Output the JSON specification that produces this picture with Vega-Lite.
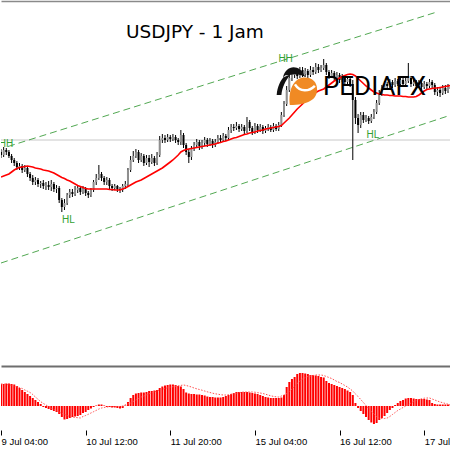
{
"$schema":"https://vega.github.io/schema/vega-lite/v6.json",
"padding":0,
"background":"white",
"config":{"view":{"stroke":null},"concat":{"spacing":1},"axis":{"grid":false},"scale":{"continuousPadding":0}},
"datasets":{"bars":[
{"i":0,"o":108.48,"h":108.51,"l":108.42,"c":108.45,"ma":108.23,"m":0.022,"s":0.022},
{"i":1,"o":108.45,"h":108.53,"l":108.43,"c":108.50,"ma":108.24,"m":0.022,"s":0.022},
{"i":2,"o":108.50,"h":108.52,"l":108.45,"c":108.48,"ma":108.25,"m":0.0225,"s":0.0215},
{"i":3,"o":108.48,"h":108.50,"l":108.42,"c":108.44,"ma":108.26,"m":0.0225,"s":0.0212},
{"i":4,"o":108.44,"h":108.46,"l":108.37,"c":108.40,"ma":108.28,"m":0.022,"s":0.0208},
{"i":5,"o":108.40,"h":108.42,"l":108.34,"c":108.37,"ma":108.30,"m":0.0215,"s":0.020},
{"i":6,"o":108.37,"h":108.39,"l":108.30,"c":108.33,"ma":108.315,"m":0.020,"s":0.0192},
{"i":7,"o":108.33,"h":108.37,"l":108.30,"c":108.34,"ma":108.325,"m":0.018,"s":0.0184},
{"i":8,"o":108.34,"h":108.36,"l":108.27,"c":108.30,"ma":108.33,"m":0.016,"s":0.0175},
{"i":9,"o":108.30,"h":108.35,"l":108.28,"c":108.32,"ma":108.335,"m":0.014,"s":0.016},
{"i":10,"o":108.32,"h":108.34,"l":108.23,"c":108.26,"ma":108.34,"m":0.012,"s":0.0148},
{"i":11,"o":108.26,"h":108.28,"l":108.19,"c":108.22,"ma":108.335,"m":0.010,"s":0.0135},
{"i":12,"o":108.22,"h":108.25,"l":108.15,"c":108.18,"ma":108.33,"m":0.008,"s":0.0115},
{"i":13,"o":108.18,"h":108.23,"l":108.15,"c":108.20,"ma":108.32,"m":0.006,"s":0.009},
{"i":14,"o":108.20,"h":108.22,"l":108.13,"c":108.16,"ma":108.315,"m":0.004,"s":0.0067},
{"i":15,"o":108.16,"h":108.19,"l":108.12,"c":108.17,"ma":108.31,"m":0.002,"s":0.0043},
{"i":16,"o":108.17,"h":108.20,"l":108.11,"c":108.14,"ma":108.30,"m":-0.001,"s":0.0026},
{"i":17,"o":108.14,"h":108.18,"l":108.10,"c":108.15,"ma":108.295,"m":-0.002,"s":0.001},
{"i":18,"o":108.15,"h":108.19,"l":108.10,"c":108.13,"ma":108.29,"m":-0.003,"s":-0.0005},
{"i":19,"o":108.13,"h":108.20,"l":108.09,"c":108.16,"ma":108.28,"m":-0.004,"s":-0.0022},
{"i":20,"o":108.16,"h":108.18,"l":108.08,"c":108.11,"ma":108.27,"m":-0.005,"s":-0.0035},
{"i":21,"o":108.11,"h":108.15,"l":108.07,"c":108.12,"ma":108.255,"m":-0.006,"s":-0.0048},
{"i":22,"o":108.12,"h":108.14,"l":107.97,"c":108.00,"ma":108.24,"m":-0.008,"s":-0.006},
{"i":23,"o":108.00,"h":108.02,"l":107.88,"c":107.93,"ma":108.225,"m":-0.011,"s":-0.0073},
{"i":24,"o":107.93,"h":108.01,"l":107.90,"c":107.97,"ma":108.215,"m":-0.0135,"s":-0.0084},
{"i":25,"o":107.97,"h":108.07,"l":107.95,"c":108.05,"ma":108.20,"m":-0.013,"s":-0.0095},
{"i":26,"o":108.05,"h":108.11,"l":108.02,"c":108.08,"ma":108.19,"m":-0.012,"s":-0.0105},
{"i":27,"o":108.08,"h":108.11,"l":108.03,"c":108.06,"ma":108.175,"m":-0.011,"s":-0.0111},
{"i":28,"o":108.06,"h":108.14,"l":108.04,"c":108.10,"ma":108.16,"m":-0.0105,"s":-0.0114},
{"i":29,"o":108.10,"h":108.15,"l":108.07,"c":108.12,"ma":108.145,"m":-0.010,"s":-0.0117},
{"i":30,"o":108.12,"h":108.14,"l":108.05,"c":108.08,"ma":108.135,"m":-0.009,"s":-0.012},
{"i":31,"o":108.08,"h":108.14,"l":108.06,"c":108.11,"ma":108.125,"m":-0.007,"s":-0.0105},
{"i":32,"o":108.11,"h":108.13,"l":108.04,"c":108.07,"ma":108.115,"m":-0.006,"s":-0.0095},
{"i":33,"o":108.07,"h":108.09,"l":108.02,"c":108.05,"ma":108.11,"m":-0.004,"s":-0.0083},
{"i":34,"o":108.05,"h":108.12,"l":108.03,"c":108.10,"ma":108.11,"m":-0.0025,"s":-0.007},
{"i":35,"o":108.10,"h":108.20,"l":108.08,"c":108.18,"ma":108.11,"m":-0.001,"s":-0.0057},
{"i":36,"o":108.18,"h":108.26,"l":108.15,"c":108.22,"ma":108.11,"m":0.0005,"s":-0.0044},
{"i":37,"o":108.22,"h":108.35,"l":108.20,"c":108.26,"ma":108.11,"m":0.0015,"s":-0.003},
{"i":38,"o":108.26,"h":108.28,"l":108.19,"c":108.22,"ma":108.11,"m":0.0015,"s":-0.002},
{"i":39,"o":108.22,"h":108.24,"l":108.15,"c":108.18,"ma":108.11,"m":0.0005,"s":-0.0015},
{"i":40,"o":108.18,"h":108.23,"l":108.15,"c":108.20,"ma":108.11,"m":-0.001,"s":-0.001},
{"i":41,"o":108.20,"h":108.22,"l":108.11,"c":108.14,"ma":108.105,"m":-0.001,"s":-0.0007},
{"i":42,"o":108.14,"h":108.16,"l":108.09,"c":108.12,"ma":108.105,"m":-0.0015,"s":-0.0005},
{"i":43,"o":108.12,"h":108.16,"l":108.10,"c":108.14,"ma":108.10,"m":-0.0015,"s":-0.0005},
{"i":44,"o":108.14,"h":108.15,"l":108.08,"c":108.11,"ma":108.10,"m":-0.002,"s":-0.0005},
{"i":45,"o":108.11,"h":108.13,"l":108.07,"c":108.10,"ma":108.10,"m":-0.0025,"s":-0.0005},
{"i":46,"o":108.10,"h":108.16,"l":108.08,"c":108.14,"ma":108.11,"m":-0.002,"s":0},
{"i":47,"o":108.14,"h":108.19,"l":108.11,"c":108.16,"ma":108.12,"m":0.0005,"s":0.0012},
{"i":48,"o":108.16,"h":108.32,"l":108.14,"c":108.30,"ma":108.135,"m":0.004,"s":0.002},
{"i":49,"o":108.30,"h":108.44,"l":108.28,"c":108.40,"ma":108.15,"m":0.008,"s":0.003},
{"i":50,"o":108.40,"h":108.49,"l":108.38,"c":108.44,"ma":108.165,"m":0.011,"s":0.0045},
{"i":51,"o":108.44,"h":108.51,"l":108.42,"c":108.48,"ma":108.18,"m":0.0125,"s":0.006},
{"i":52,"o":108.48,"h":108.50,"l":108.37,"c":108.40,"ma":108.19,"m":0.013,"s":0.0075},
{"i":53,"o":108.40,"h":108.47,"l":108.38,"c":108.44,"ma":108.20,"m":0.0135,"s":0.009},
{"i":54,"o":108.44,"h":108.46,"l":108.34,"c":108.37,"ma":108.215,"m":0.0135,"s":0.010},
{"i":55,"o":108.37,"h":108.45,"l":108.35,"c":108.42,"ma":108.23,"m":0.014,"s":0.0112},
{"i":56,"o":108.42,"h":108.45,"l":108.33,"c":108.38,"ma":108.245,"m":0.015,"s":0.0122},
{"i":57,"o":108.38,"h":108.46,"l":108.36,"c":108.42,"ma":108.26,"m":0.015,"s":0.0132},
{"i":58,"o":108.42,"h":108.44,"l":108.34,"c":108.37,"ma":108.275,"m":0.0155,"s":0.0142},
{"i":59,"o":108.37,"h":108.48,"l":108.35,"c":108.45,"ma":108.29,"m":0.016,"s":0.015},
{"i":60,"o":108.45,"h":108.64,"l":108.43,"c":108.60,"ma":108.305,"m":0.018,"s":0.016},
{"i":61,"o":108.60,"h":108.66,"l":108.57,"c":108.62,"ma":108.32,"m":0.0195,"s":0.0168},
{"i":62,"o":108.62,"h":108.65,"l":108.57,"c":108.60,"ma":108.34,"m":0.0205,"s":0.0175},
{"i":63,"o":108.60,"h":108.66,"l":108.58,"c":108.63,"ma":108.36,"m":0.021,"s":0.0182},
{"i":64,"o":108.63,"h":108.65,"l":108.58,"c":108.61,"ma":108.38,"m":0.0215,"s":0.0188},
{"i":65,"o":108.61,"h":108.66,"l":108.59,"c":108.63,"ma":108.40,"m":0.0215,"s":0.0193},
{"i":66,"o":108.63,"h":108.65,"l":108.57,"c":108.60,"ma":108.425,"m":0.021,"s":0.0198},
{"i":67,"o":108.60,"h":108.62,"l":108.55,"c":108.58,"ma":108.45,"m":0.020,"s":0.0202},
{"i":68,"o":108.58,"h":108.70,"l":108.55,"c":108.65,"ma":108.48,"m":0.0195,"s":0.0206},
{"i":69,"o":108.65,"h":108.67,"l":108.52,"c":108.55,"ma":108.495,"m":0.017,"s":0.021},
{"i":70,"o":108.55,"h":108.57,"l":108.45,"c":108.48,"ma":108.505,"m":0.0135,"s":0.0205},
{"i":71,"o":108.48,"h":108.51,"l":108.37,"c":108.43,"ma":108.51,"m":0.0125,"s":0.0198},
{"i":72,"o":108.43,"h":108.54,"l":108.40,"c":108.52,"ma":108.515,"m":0.012,"s":0.019},
{"i":73,"o":108.52,"h":108.58,"l":108.49,"c":108.55,"ma":108.52,"m":0.012,"s":0.018},
{"i":74,"o":108.55,"h":108.61,"l":108.52,"c":108.58,"ma":108.525,"m":0.0115,"s":0.0172},
{"i":75,"o":108.58,"h":108.60,"l":108.50,"c":108.54,"ma":108.53,"m":0.0115,"s":0.0165},
{"i":76,"o":108.54,"h":108.60,"l":108.51,"c":108.57,"ma":108.535,"m":0.011,"s":0.0158},
{"i":77,"o":108.57,"h":108.63,"l":108.54,"c":108.60,"ma":108.54,"m":0.0105,"s":0.015},
{"i":78,"o":108.60,"h":108.62,"l":108.53,"c":108.56,"ma":108.545,"m":0.0095,"s":0.0142},
{"i":79,"o":108.56,"h":108.62,"l":108.54,"c":108.59,"ma":108.55,"m":0.009,"s":0.0135},
{"i":80,"o":108.59,"h":108.61,"l":108.52,"c":108.55,"ma":108.555,"m":0.009,"s":0.0128},
{"i":81,"o":108.55,"h":108.61,"l":108.53,"c":108.58,"ma":108.56,"m":0.0085,"s":0.0122},
{"i":82,"o":108.58,"h":108.65,"l":108.56,"c":108.62,"ma":108.57,"m":0.0085,"s":0.0118},
{"i":83,"o":108.62,"h":108.65,"l":108.57,"c":108.60,"ma":108.575,"m":0.0085,"s":0.0113},
{"i":84,"o":108.60,"h":108.67,"l":108.58,"c":108.64,"ma":108.585,"m":0.009,"s":0.011},
{"i":85,"o":108.64,"h":108.66,"l":108.59,"c":108.62,"ma":108.59,"m":0.010,"s":0.011},
{"i":86,"o":108.62,"h":108.73,"l":108.60,"c":108.70,"ma":108.60,"m":0.011,"s":0.0113},
{"i":87,"o":108.70,"h":108.76,"l":108.67,"c":108.73,"ma":108.61,"m":0.012,"s":0.0118},
{"i":88,"o":108.73,"h":108.76,"l":108.69,"c":108.72,"ma":108.62,"m":0.013,"s":0.0123},
{"i":89,"o":108.72,"h":108.78,"l":108.70,"c":108.74,"ma":108.625,"m":0.014,"s":0.0128},
{"i":90,"o":108.74,"h":108.76,"l":108.68,"c":108.71,"ma":108.635,"m":0.014,"s":0.0133},
{"i":91,"o":108.71,"h":108.76,"l":108.69,"c":108.73,"ma":108.645,"m":0.014,"s":0.0138},
{"i":92,"o":108.73,"h":108.75,"l":108.66,"c":108.69,"ma":108.655,"m":0.014,"s":0.014},
{"i":93,"o":108.69,"h":108.83,"l":108.67,"c":108.78,"ma":108.66,"m":0.014,"s":0.014},
{"i":94,"o":108.78,"h":108.80,"l":108.69,"c":108.72,"ma":108.67,"m":0.0135,"s":0.014},
{"i":95,"o":108.72,"h":108.74,"l":108.65,"c":108.68,"ma":108.675,"m":0.013,"s":0.014},
{"i":96,"o":108.68,"h":108.77,"l":108.66,"c":108.74,"ma":108.68,"m":0.0125,"s":0.0138},
{"i":97,"o":108.74,"h":108.76,"l":108.67,"c":108.70,"ma":108.69,"m":0.012,"s":0.0134},
{"i":98,"o":108.70,"h":108.76,"l":108.68,"c":108.73,"ma":108.695,"m":0.011,"s":0.013},
{"i":99,"o":108.73,"h":108.75,"l":108.66,"c":108.69,"ma":108.70,"m":0.010,"s":0.0125},
{"i":100,"o":108.69,"h":108.74,"l":108.67,"c":108.72,"ma":108.71,"m":0.009,"s":0.0118},
{"i":101,"o":108.72,"h":108.76,"l":108.69,"c":108.73,"ma":108.715,"m":0.0085,"s":0.011},
{"i":102,"o":108.73,"h":108.75,"l":108.68,"c":108.70,"ma":108.72,"m":0.008,"s":0.0102},
{"i":103,"o":108.70,"h":108.77,"l":108.68,"c":108.74,"ma":108.725,"m":0.008,"s":0.0096},
{"i":104,"o":108.74,"h":108.76,"l":108.69,"c":108.71,"ma":108.73,"m":0.008,"s":0.0092},
{"i":105,"o":108.71,"h":108.78,"l":108.69,"c":108.75,"ma":108.735,"m":0.008,"s":0.009},
{"i":106,"o":108.75,"h":108.88,"l":108.73,"c":108.85,"ma":108.745,"m":0.0085,"s":0.010},
{"i":107,"o":108.85,"h":108.99,"l":108.83,"c":108.96,"ma":108.77,"m":0.011,"s":0.011},
{"i":108,"o":108.96,"h":109.14,"l":108.94,"c":109.10,"ma":108.795,"m":0.019,"s":0.0125},
{"i":109,"o":109.10,"h":109.26,"l":109.08,"c":109.22,"ma":108.82,"m":0.024,"s":0.0145},
{"i":110,"o":109.22,"h":109.29,"l":109.19,"c":109.25,"ma":108.85,"m":0.027,"s":0.017},
{"i":111,"o":109.25,"h":109.32,"l":109.22,"c":109.28,"ma":108.88,"m":0.029,"s":0.020},
{"i":112,"o":109.28,"h":109.31,"l":109.21,"c":109.24,"ma":108.91,"m":0.032,"s":0.0225},
{"i":113,"o":109.24,"h":109.33,"l":109.22,"c":109.30,"ma":108.935,"m":0.033,"s":0.025},
{"i":114,"o":109.30,"h":109.33,"l":109.23,"c":109.26,"ma":108.96,"m":0.033,"s":0.027},
{"i":115,"o":109.26,"h":109.32,"l":109.23,"c":109.29,"ma":108.99,"m":0.0325,"s":0.0285},
{"i":116,"o":109.29,"h":109.31,"l":109.22,"c":109.25,"ma":109.015,"m":0.032,"s":0.0295},
{"i":117,"o":109.25,"h":109.34,"l":109.23,"c":109.30,"ma":109.04,"m":0.031,"s":0.030},
{"i":118,"o":109.30,"h":109.33,"l":109.25,"c":109.28,"ma":109.06,"m":0.031,"s":0.0305},
{"i":119,"o":109.28,"h":109.37,"l":109.26,"c":109.33,"ma":109.075,"m":0.0305,"s":0.031},
{"i":120,"o":109.33,"h":109.36,"l":109.27,"c":109.30,"ma":109.09,"m":0.030,"s":0.031},
{"i":121,"o":109.30,"h":109.35,"l":109.28,"c":109.32,"ma":109.10,"m":0.029,"s":0.031},
{"i":122,"o":109.32,"h":109.41,"l":109.30,"c":109.35,"ma":109.11,"m":0.0285,"s":0.0305},
{"i":123,"o":109.35,"h":109.37,"l":109.25,"c":109.28,"ma":109.13,"m":0.025,"s":0.0295},
{"i":124,"o":109.28,"h":109.30,"l":109.21,"c":109.24,"ma":109.15,"m":0.023,"s":0.0285},
{"i":125,"o":109.24,"h":109.30,"l":109.22,"c":109.27,"ma":109.17,"m":0.022,"s":0.0275},
{"i":126,"o":109.27,"h":109.29,"l":109.19,"c":109.22,"ma":109.19,"m":0.021,"s":0.026},
{"i":127,"o":109.22,"h":109.28,"l":109.20,"c":109.25,"ma":109.205,"m":0.020,"s":0.0245},
{"i":128,"o":109.25,"h":109.27,"l":109.17,"c":109.20,"ma":109.22,"m":0.019,"s":0.0235},
{"i":129,"o":109.20,"h":109.26,"l":109.18,"c":109.23,"ma":109.235,"m":0.018,"s":0.022},
{"i":130,"o":109.23,"h":109.25,"l":109.15,"c":109.18,"ma":109.245,"m":0.017,"s":0.0205},
{"i":131,"o":109.18,"h":109.24,"l":109.16,"c":109.21,"ma":109.255,"m":0.0155,"s":0.019},
{"i":132,"o":109.21,"h":109.23,"l":109.13,"c":109.16,"ma":109.26,"m":0.014,"s":0.017},
{"i":133,"o":109.16,"h":109.20,"l":108.40,"c":109.00,"ma":109.255,"m":0.011,"s":0.015},
{"i":134,"o":109.00,"h":109.03,"l":108.76,"c":108.82,"ma":109.24,"m":0.003,"s":0.012},
{"i":135,"o":108.82,"h":108.86,"l":108.67,"c":108.75,"ma":109.215,"m":-0.002,"s":0.0095},
{"i":136,"o":108.75,"h":108.88,"l":108.72,"c":108.85,"ma":109.19,"m":-0.005,"s":0.0065},
{"i":137,"o":108.85,"h":108.88,"l":108.77,"c":108.80,"ma":109.165,"m":-0.008,"s":0.0035},
{"i":138,"o":108.80,"h":108.85,"l":108.78,"c":108.82,"ma":109.14,"m":-0.011,"s":0.0005},
{"i":139,"o":108.82,"h":108.84,"l":108.76,"c":108.79,"ma":109.12,"m":-0.014,"s":-0.0025},
{"i":140,"o":108.79,"h":108.86,"l":108.77,"c":108.83,"ma":109.10,"m":-0.0165,"s":-0.0055},
{"i":141,"o":108.83,"h":108.91,"l":108.81,"c":108.88,"ma":109.08,"m":-0.018,"s":-0.008},
{"i":142,"o":108.88,"h":109.00,"l":108.86,"c":108.97,"ma":109.07,"m":-0.017,"s":-0.0105},
{"i":143,"o":108.97,"h":109.10,"l":108.95,"c":109.06,"ma":109.06,"m":-0.014,"s":-0.012},
{"i":144,"o":109.06,"h":109.15,"l":109.04,"c":109.12,"ma":109.055,"m":-0.012,"s":-0.0125},
{"i":145,"o":109.12,"h":109.19,"l":109.10,"c":109.16,"ma":109.05,"m":-0.010,"s":-0.0125},
{"i":146,"o":109.16,"h":109.18,"l":109.11,"c":109.14,"ma":109.05,"m":-0.007,"s":-0.012},
{"i":147,"o":109.14,"h":109.21,"l":109.12,"c":109.18,"ma":109.045,"m":-0.004,"s":-0.0105},
{"i":148,"o":109.18,"h":109.20,"l":109.12,"c":109.15,"ma":109.045,"m":-0.002,"s":-0.0085},
{"i":149,"o":109.15,"h":109.22,"l":109.13,"c":109.19,"ma":109.04,"m":0.001,"s":-0.0065},
{"i":150,"o":109.19,"h":109.21,"l":109.14,"c":109.16,"ma":109.04,"m":0.003,"s":-0.0045},
{"i":151,"o":109.16,"h":109.23,"l":109.14,"c":109.20,"ma":109.04,"m":0.005,"s":-0.003},
{"i":152,"o":109.20,"h":109.22,"l":109.13,"c":109.16,"ma":109.035,"m":0.006,"s":-0.0015},
{"i":153,"o":109.16,"h":109.22,"l":109.14,"c":109.19,"ma":109.035,"m":0.0075,"s":0},
{"i":154,"o":109.19,"h":109.37,"l":109.17,"c":109.22,"ma":109.03,"m":0.008,"s":0.0015},
{"i":155,"o":109.22,"h":109.24,"l":109.13,"c":109.16,"ma":109.03,"m":0.008,"s":0.003},
{"i":156,"o":109.16,"h":109.21,"l":109.14,"c":109.18,"ma":109.03,"m":0.0075,"s":0.0045},
{"i":157,"o":109.18,"h":109.20,"l":109.11,"c":109.14,"ma":109.035,"m":0.007,"s":0.0055},
{"i":158,"o":109.14,"h":109.20,"l":109.12,"c":109.17,"ma":109.05,"m":0.007,"s":0.0065},
{"i":159,"o":109.17,"h":109.19,"l":109.10,"c":109.13,"ma":109.07,"m":0.007,"s":0.0073},
{"i":160,"o":109.13,"h":109.19,"l":109.11,"c":109.16,"ma":109.09,"m":0.007,"s":0.0078},
{"i":161,"o":109.16,"h":109.18,"l":109.11,"c":109.14,"ma":109.105,"m":0.0065,"s":0.008},
{"i":162,"o":109.14,"h":109.21,"l":109.12,"c":109.18,"ma":109.11,"m":0.006,"s":0.008},
{"i":163,"o":109.18,"h":109.20,"l":109.12,"c":109.15,"ma":109.115,"m":0.003,"s":0.007},
{"i":164,"o":109.15,"h":109.17,"l":109.05,"c":109.08,"ma":109.12,"m":0.002,"s":0.006},
{"i":165,"o":109.08,"h":109.13,"l":109.04,"c":109.10,"ma":109.12,"m":0.0015,"s":0.005},
{"i":166,"o":109.10,"h":109.13,"l":109.03,"c":109.07,"ma":109.125,"m":0.0015,"s":0.004},
{"i":167,"o":109.07,"h":109.15,"l":109.05,"c":109.12,"ma":109.13,"m":0.0015,"s":0.0033},
{"i":168,"o":109.12,"h":109.15,"l":109.06,"c":109.09,"ma":109.135,"m":0.0015,"s":0.0025},
{"i":169,"o":109.09,"h":109.16,"l":109.07,"c":109.13,"ma":109.14,"m":0.0015,"s":0.0018},
{"i":170,"o":109.13,"h":109.16,"l":109.08,"c":109.11,"ma":109.145,"m":0.0015,"s":0.0012}
]},
"vconcat":[
{
"width":450,"height":365,
"resolve":{"axis":{"x":"independent"}},
"layer":[
{"data":{"values":[{"p":108.60}]},"mark":{"type":"rule","color":"#c8c8c8","strokeWidth":1},
 "encoding":{"y":{"field":"p","type":"quantitative","scale":{"domain":[106.35,110],"nice":false,"zero":false},"axis":null}}},
{"data":{"values":[{"line":"upper","i":2.65,"p":108.535},{"line":"upper","i":164.8,"p":109.88},{"line":"lower","i":0,"p":107.37},{"line":"lower","i":170.13,"p":108.85}]},
 "mark":{"type":"line","color":"#52a852","strokeWidth":1,"strokeDash":[7,4],"clip":true},
 "encoding":{"x":{"field":"i","type":"quantitative","scale":{"domain":[0,170.13],"nice":false,"zero":false,"padding":0},"axis":{"orient":"top","labels":false,"ticks":false,"domain":true,"domainColor":"#8a8a8a","domainWidth":1.5,"title":null,"offset":-1}},
  "y":{"field":"p","type":"quantitative","scale":{"domain":[106.35,110],"nice":false,"zero":false},"axis":null},
  "detail":{"field":"line","type":"nominal"}}},
{"data":{"name":"bars"},"mark":{"type":"rule","color":"#000000","strokeWidth":1,"clip":true},
 "encoding":{"x":{"field":"i","type":"quantitative","scale":{"domain":[0,170.13],"nice":false,"zero":false,"padding":0},"axis":null},
  "y":{"field":"h","type":"quantitative","scale":{"domain":[106.35,110],"nice":false,"zero":false},"axis":null},
  "y2":{"field":"l"}}},
{"data":{"name":"bars"},"mark":{"type":"bar","width":2,"clip":true},
 "encoding":{"x":{"field":"i","type":"quantitative","scale":{"domain":[0,170.13],"nice":false,"zero":false,"padding":0},"axis":null},
  "y":{"field":"o","type":"quantitative","scale":{"domain":[106.35,110],"nice":false,"zero":false},"axis":null},
  "y2":{"field":"c"},
  "color":{"condition":{"test":"datum.c >= datum.o","value":"#8f8f8f"},"value":"#000000"}}},
{"data":{"name":"bars"},"mark":{"type":"line","color":"#ff0000","strokeWidth":1.6,"clip":true},
 "encoding":{"x":{"field":"i","type":"quantitative","scale":{"domain":[0,170.13],"nice":false,"zero":false,"padding":0},"axis":null},
  "y":{"field":"ma","type":"quantitative","scale":{"domain":[106.35,110],"nice":false,"zero":false},"axis":null}}},
{"data":{"values":[{"i":114.2,"p":109.09}]},"mark":{"type":"point","filled":true,"color":"#f08a24","opacity":1,"size":870,"shape":"M-0.9,0.95 C-1,0.2 -0.8,-0.7 -0.1,-0.9 C0.5,-1 0.95,-0.7 0.95,-0.1 C0.95,0.6 0.3,0.95 -0.9,0.95 Z"},
 "encoding":{"x":{"field":"i","type":"quantitative","scale":{"domain":[0,170.13],"nice":false,"zero":false,"padding":0},"axis":null},
  "y":{"field":"p","type":"quantitative","scale":{"domain":[106.35,110],"nice":false,"zero":false},"axis":null}}},
{"data":{"values":[{"i":114.2,"p":109.09}]},"mark":{"type":"point","filled":false,"stroke":"#ffffff","strokeWidth":2.5,"opacity":1,"size":870,"shape":"M-0.55,-0.45 C-0.2,0.1 0.4,0.05 0.8,-0.35"},
 "encoding":{"x":{"field":"i","type":"quantitative","scale":{"domain":[0,170.13],"nice":false,"zero":false,"padding":0},"axis":null},
  "y":{"field":"p","type":"quantitative","scale":{"domain":[106.35,110],"nice":false,"zero":false},"axis":null}}},
{"data":{"values":[{"i":109.6,"p":109.2}]},"mark":{"type":"point","filled":true,"color":"#111111","opacity":1,"size":1000,"shape":"M-0.5,-0.15 C-0.35,-1 0.6,-1.05 0.9,-0.2 C0.45,-0.45 -0.05,-0.4 -0.5,-0.15 Z M-0.35,-0.3 C-0.7,0.05 -0.85,0.45 -0.9,0.95 L-0.6,0.95 C-0.55,0.45 -0.35,0.05 -0.05,-0.3 Z"},
 "encoding":{"x":{"field":"i","type":"quantitative","scale":{"domain":[0,170.13],"nice":false,"zero":false,"padding":0},"axis":null},
  "y":{"field":"p","type":"quantitative","scale":{"domain":[106.35,110],"nice":false,"zero":false},"axis":null}}},
{"data":{"values":[{"t":"PEDIAFX","i":121.7,"p":109.05}]},"mark":{"type":"text","align":"left","baseline":"alphabetic","font":"Roboto","fontSize":26,"color":"#000000","clip":true},
 "encoding":{"x":{"field":"i","type":"quantitative","scale":{"domain":[0,170.13],"nice":false,"zero":false,"padding":0},"axis":null},
  "y":{"field":"p","type":"quantitative","scale":{"domain":[106.35,110],"nice":false,"zero":false},"axis":null},
  "text":{"field":"t"}}},
{"data":{"values":[{"t":"USDJPY - 1 Jam","i":73.3,"p":109.62}]},"mark":{"type":"text","align":"center","baseline":"alphabetic","font":"DejaVu Sans","fontSize":18.5,"color":"#000000","clip":true},
 "encoding":{"x":{"field":"i","type":"quantitative","scale":{"domain":[0,170.13],"nice":false,"zero":false,"padding":0},"axis":null},
  "y":{"field":"p","type":"quantitative","scale":{"domain":[106.35,110],"nice":false,"zero":false},"axis":null},
  "text":{"field":"t"}}},
{"data":{"values":[{"t":"HH","i":1.9,"p":108.53},{"t":"HH","i":107.6,"p":109.38},{"t":"HL","i":25.5,"p":107.77},{"t":"HL","i":140.6,"p":108.62}]},
 "mark":{"type":"text","align":"center","baseline":"alphabetic","font":"Liberation Sans","fontSize":10,"color":"#32a032","clip":true},
 "encoding":{"x":{"field":"i","type":"quantitative","scale":{"domain":[0,170.13],"nice":false,"zero":false,"padding":0},"axis":null},
  "y":{"field":"p","type":"quantitative","scale":{"domain":[106.35,110],"nice":false,"zero":false},"axis":null},
  "text":{"field":"t"}}}
]
},
{
"width":450,"height":64,
"resolve":{"axis":{"x":"independent"}},
"layer":[
{"data":{"name":"bars"},"mark":{"type":"bar","width":2,"color":"#ff0000","clip":true},
 "encoding":{"x":{"field":"i","type":"quantitative","scale":{"domain":[0,170.13],"nice":false,"zero":false,"padding":0},
   "axis":{"orient":"bottom","values":[0,32,64,96,128,160],"labelExpr":"['9 Jul 04:00','10 Jul 12:00','11 Jul 20:00','15 Jul 04:00','16 Jul 12:00','17 Jul 20:00'][round(datum.value/32)]","domain":false,"ticks":true,"tickColor":"#000000","tickSize":5,"tickWidth":1,"labelAlign":"left","labelBaseline":"top","labelPadding":1,"labelFont":"Liberation Sans","labelFontSize":9.5,"labelColor":"#000000","labelOverlap":false,"labelFlush":false,"labelBound":false,"title":null}},
  "y":{"field":"m","type":"quantitative","scale":{"domain":[-0.024,0.040],"nice":false},"axis":null}}},
{"data":{"name":"bars"},"mark":{"type":"line","color":"#ff5050","strokeWidth":1,"strokeDash":[1.5,1.5],"clip":true},
 "encoding":{"x":{"field":"i","type":"quantitative","scale":{"domain":[0,170.13],"nice":false,"zero":false,"padding":0},
   "axis":{"orient":"top","labels":false,"ticks":false,"domainColor":"#6e6e6e","domainWidth":2,"title":null}},
  "y":{"field":"s","type":"quantitative","scale":{"domain":[-0.024,0.040],"nice":false},"axis":null}}}
]
}
]
}
